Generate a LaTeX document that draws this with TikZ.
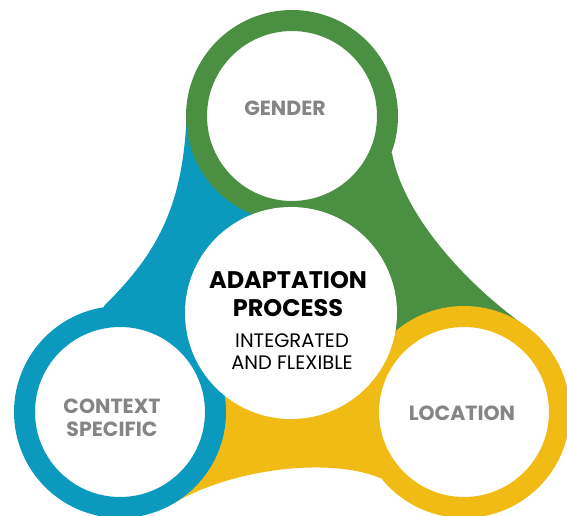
\documentclass[tikz,border=0pt]{standalone}
\usepackage{fontspec}
\setmainfont{Poppins}
\definecolor{leafgreen}{HTML}{4B8F43}
\definecolor{seablue}{HTML}{0B9ABD}
\definecolor{sunyellow}{HTML}{F1BB15}
\definecolor{labelgray}{HTML}{858585}
\begin{document}
\begin{tikzpicture}[x=1pt, y=1pt,
    ring/.style={circle, draw=#1, line width=21pt, fill=white, minimum size=191pt, inner sep=0pt},
    tag/.style={text=labelgray, font=\bfseries\fontsize{20.5}{23}\selectfont, align=center, inner sep=0pt},
    hub/.style={circle, fill=white, minimum size=212pt, inner sep=0pt}]
    \useasboundingbox (0,0) rectangle (567,515);
    \coordinate (g) at (292,399);
    \coordinate (b) at (120,103);
    \coordinate (y) at (464,103);
    \coordinate (c) at (291,202);

    \fill[seablue] (186.5,399) .. controls (183,300) and (150,255) .. (104,209) -- (b) -- (c) -- (g) -- cycle;
    \fill[leafgreen] (392,362) .. controls (403,300) and (466,231) .. (526,188.5) -- (y) -- (c) -- (g) -- cycle;
    \fill[sunyellow] (170,9.5) .. controls (230,47) and (330,58) .. (380,37) -- (y) -- (c) -- (b) -- cycle;

    \node[ring=leafgreen] (gender) at (g) {};
    \node[ring=seablue] (context) at (b) {};
    \node[ring=sunyellow] (location) at (y) {};
    \node[hub] (adapt) at (c) {};

    \node[tag] (gendertext) at ([shift={(-7,8)}]gender) {GENDER};
    \node[tag] (contexttext) at ([shift={(-8,-5.5)}]context) {CONTEXT\\SPECIFIC};
    \node[tag] (locationtext) at ([shift={(-2,-1)}]location) {LOCATION};
    \node[font=\bfseries\fontsize{24}{28}\selectfont, align=center, inner sep=0pt] (title) at ([shift={(-3,19)}]adapt) {ADAPTATION\\PROCESS};
    \node[font=\fontsize{19.5}{22}\selectfont, align=center, inner sep=0pt] (subtitle) at ([shift={(1,-39)}]adapt) {INTEGRATED\\AND FLEXIBLE};
\end{tikzpicture}
\end{document}
